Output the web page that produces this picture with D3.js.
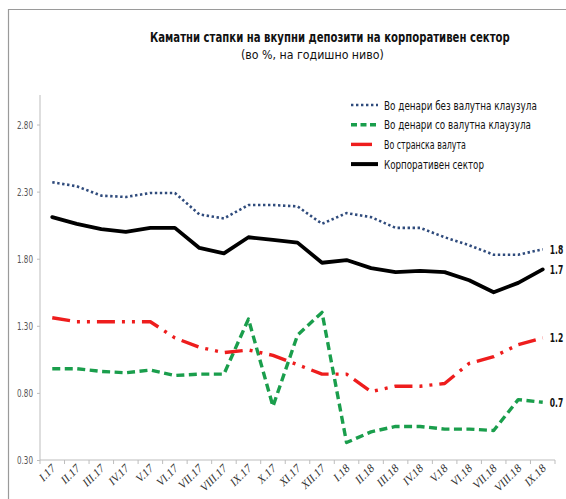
<!DOCTYPE html>
<html><head><meta charset="utf-8">
<script src="https://cdn.jsdelivr.net/npm/d3@7/dist/d3.min.js"></script>
<style>
html,body{margin:0;padding:0;background:#fff;}
svg{display:block;}
.nar{font-family:"DejaVu Sans Condensed","DejaVu Sans",sans-serif;}
</style></head>
<body>
<svg id="c" width="566" height="499"></svg>
<script>
const categories = ["I.17","II.17","III.17","IV.17","V.17","VI.17","VII.17","VIII.17","IX.17","X.17","XI.17","XII.17","I.18","II.18","III.18","IV.18","V.18","VI.18","VII.18","VIII.18","IX.18"];
const denariBez = [2.37,2.34,2.27,2.26,2.29,2.29,2.13,2.10,2.20,2.20,2.19,2.06,2.14,2.11,2.03,2.03,1.96,1.90,1.83,1.83,1.87];
const denariSo  = [0.98,0.98,0.96,0.95,0.97,0.93,0.94,0.94,1.35,0.70,1.23,1.40,0.43,0.51,0.55,0.55,0.53,0.53,0.52,0.75,0.73];
const stranska  = [1.36,1.33,1.33,1.33,1.33,1.21,1.14,1.10,1.12,1.08,1.01,0.94,0.94,0.81,0.85,0.85,0.87,1.02,1.07,1.16,1.21];
const korpor    = [2.11,2.06,2.02,2.00,2.03,2.03,1.88,1.84,1.96,1.94,1.92,1.77,1.79,1.73,1.70,1.71,1.70,1.64,1.55,1.62,1.72];
const yTicks = [0.30,0.80,1.30,1.80,2.30,2.80];
const endLabels = ["1.8","0.7","1.2","1.7"];
const seriesNames = ["Во денари без валутна клаузула","Во денари со валутна клаузула","Во странска валута","Корпоративен сектор"];

const series = [
  {name:seriesNames[0], values:denariBez, color:"#2f4b7c", width:2.6, dash:"2.4,2.6", cap:"butt", lab:endLabels[0], legDash:"2.4,2.6", legW:2.6, tw:153},
  {name:seriesNames[1], values:denariSo, color:"#1a9e4c", width:3.4, dash:"8,4.5", cap:"butt", lab:endLabels[1], legDash:"6,3.5", legW:3.4, tw:147},
  {name:seriesNames[2], values:stranska, color:"#ee1d1d", width:3.4, dash:"18,7,3,7,3,7", cap:"butt", lab:endLabels[2], legDash:null, legW:3.4, tw:82},
  {name:seriesNames[3], values:korpor, color:"#000000", width:3.8, dash:null, cap:"round", lab:endLabels[3], legDash:null, legW:4, tw:100}
];

const svg = d3.select("#c");
// text fitted horizontally by scaling the glyphs
function fitText(parent, x0, y0, w, txt, attrs, anchor){
  const g = parent.append("g");
  const t = g.append("text").attr("class","nar").text(txt);
  Object.entries(attrs).forEach(([k,v])=>t.attr(k,v));
  const nat = t.node().getComputedTextLength();
  const s = w/nat;
  const left = anchor==="end" ? x0 - w : x0;
  g.attr("transform",`translate(${left},${y0}) scale(${s},1)`);
  return t;
}

// frame
svg.append("path").attr("d","M8.5,499 V9.5 H566").attr("fill","none").attr("stroke","#9a9a9a").attr("stroke-width",1.2);

const x = d3.scaleBand().domain(categories).range([40,555]);
const y = d3.scaleLinear().domain([0.3,3.02]).range([460,95]);
const cx = d => x(d)+x.bandwidth()/2;

// title
fitText(svg,150,42,360,"Каматни стапки на вкупни депозити на корпоративен сектор",
  {"font-size":14,"font-weight":"bold","fill":"#111"});
fitText(svg,241,59,143,"(во %, на годишно ниво)",{"font-size":13,"fill":"#111"});

// y axis
const ya = svg.append("g").attr("transform","translate(40,0)")
  .call(d3.axisLeft(y).tickValues(yTicks).tickSize(3).tickFormat(""));
ya.select(".domain").attr("stroke","#bdbdbd").attr("d","M0,95V460");
ya.selectAll(".tick line").attr("stroke","#bdbdbd");
const fmt = d3.format(".2f");
yTicks.forEach(v=>fitText(svg,33,y(v)+4,16,fmt(v),{"font-size":11,"fill":"#555"},"end"));

// x axis
const xa = svg.append("g").attr("transform","translate(0,460)")
  .call(d3.axisBottom(x).tickSize(0).tickFormat(""));
xa.select(".domain").attr("stroke","#bdbdbd").attr("d","M40,0H555");
xa.selectAll(".tick").remove();
const bounds = categories.map(c=>x(c)).concat([555]);
xa.selectAll("line.b").data(bounds).enter().append("line")
  .attr("x1",d=>d).attr("x2",d=>d).attr("y1",0).attr("y2",4).attr("stroke","#bdbdbd");
svg.append("g").selectAll("text").data(categories).enter().append("text")
  .attr("transform",d=>`translate(${cx(d)+4},${469}) rotate(-45)`)
  .attr("text-anchor","end")
  .attr("font-family","'Liberation Serif','Times New Roman',serif")
  .attr("font-style","italic").attr("font-size",11.5).attr("fill","#333")
  .text(d=>d);

// lines
const line = d3.line().x((d,i)=>cx(categories[i])).y(d=>y(d));
series.forEach(s=>{
  svg.append("path").datum(s.values).attr("d",line)
    .attr("fill","none").attr("stroke",s.color).attr("stroke-width",s.width)
    .attr("stroke-linejoin","round").attr("stroke-linecap",s.cap)
    .attr("stroke-dasharray",s.dash);
  const lv = s.values[s.values.length-1];
  fitText(svg,cx(categories[categories.length-1])+7,y(lv)+4.5,13.5,s.lab,
    {"font-size":13,"font-weight":"bold","fill":"#111"});
});

// legend
const lg = svg.append("g");
series.forEach((s,i)=>{
  const yy = 105 + i*19.7;
  lg.append("line").attr("x1",351).attr("x2", i===2?372:378).attr("y1",yy).attr("y2",yy)
    .attr("stroke",s.color).attr("stroke-width",s.legW).attr("stroke-dasharray",s.legDash);
  fitText(lg,384,yy+4.5,s.tw,s.name,{"font-size":12.5,"fill":"#111"});
});
</script>
</body></html>
